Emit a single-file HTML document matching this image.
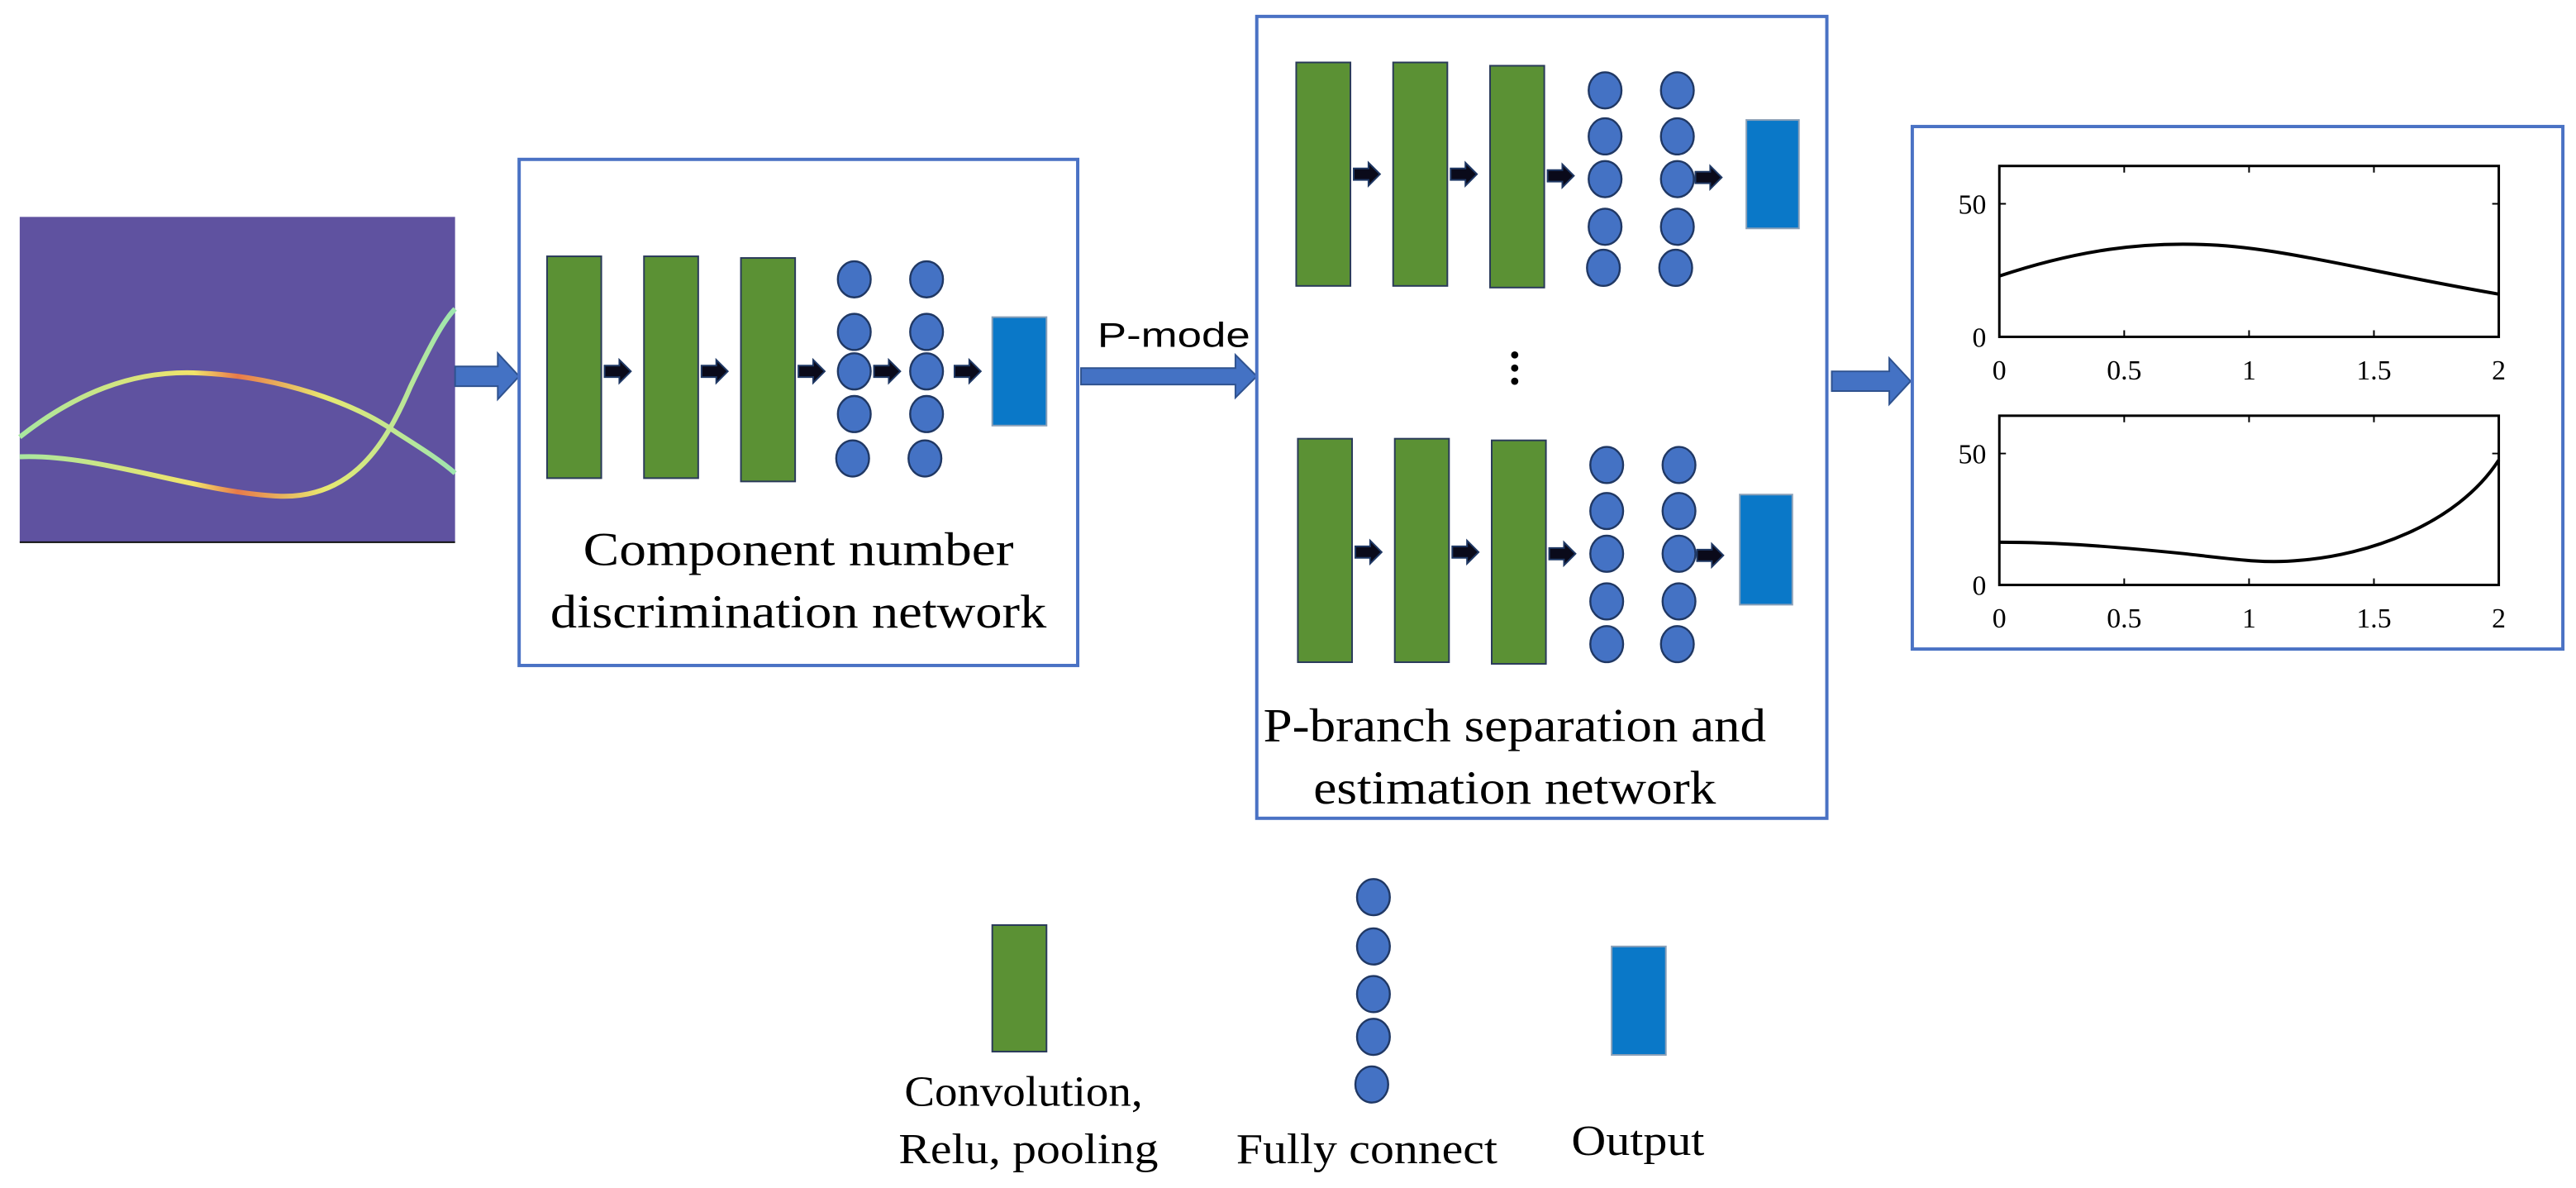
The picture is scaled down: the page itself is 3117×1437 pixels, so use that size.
<!DOCTYPE html>
<html><head><meta charset="utf-8"><style>html,body{margin:0;padding:0;background:#fff}svg{display:block}</style></head><body>
<svg width="3117" height="1437" viewBox="0 0 1568 723" preserveAspectRatio="none" xmlns="http://www.w3.org/2000/svg">
<defs>
<g id="sa"><path d="M-1,-3.5 L8,-3.5 L8,-7 L15,0 L8,7 L8,3.5 L-1,3.5 Z" fill="#0a0a1a" stroke="#1f3864" stroke-width="1"/></g>
<linearGradient id="lg" x1="0" x2="1"><stop offset="0" stop-color="#a8e6a0"/><stop offset="0.4" stop-color="#f2e46a"/><stop offset="0.5" stop-color="#e87a4a"/><stop offset="0.7" stop-color="#e8e870"/><stop offset="1" stop-color="#9ee6b0"/></linearGradient>
</defs>
<style>
.g{fill:#5B9134;stroke:#2a3a5a;stroke-width:1}
.c{fill:#4472C4;stroke:#203864;stroke-width:1.2}
.o{fill:#0A78C8;stroke:#8aa0b8;stroke-width:1}
.bx{fill:none;stroke:#4A72C4;stroke-width:2}
.ba{fill:#4472C4;stroke:#2f528f;stroke-width:1}
.t{font-family:"Liberation Serif",serif;fill:#000}
.ax{font-family:"Liberation Serif",serif;font-size:17px;fill:#000}
</style>
<rect x="12" y="132" width="265" height="198" fill="#5F52A0"/>
<line x1="12" y1="330" x2="277" y2="330" stroke="#111" stroke-width="1"/>
<path d="M12,266 C45,240 80,225 121,227 C170,229 215,245 241,263 C255,272 268,280 277,288" fill="none" stroke="url(#lg)" stroke-width="3"/>
<path d="M12,278 C60,276 120,300 171,302 C215,303 235,270 250,235 C262,210 270,195 277,188" fill="none" stroke="url(#lg)" stroke-width="3"/>
<path class="ba" d="M277,223 L303,223 L303,215 L316,229 L303,243 L303,235 L277,235 Z"/>
<rect class="bx" x="316" y="97" width="340" height="308"/>
<rect class="g" x="333" y="156" width="33" height="135"/>
<rect class="g" x="392" y="156" width="33" height="135"/>
<rect class="g" x="451" y="157" width="33" height="136"/>
<use href="#sa" x="369" y="226"/><use href="#sa" x="428" y="226"/><use href="#sa" x="487" y="226"/><use href="#sa" x="533" y="226"/><use href="#sa" x="582" y="226"/>
<g class="c">
<ellipse cx="520" cy="170" rx="10" ry="11"/><ellipse cx="520" cy="202" rx="10" ry="11"/><ellipse cx="520" cy="226" rx="10" ry="11"/><ellipse cx="520" cy="252" rx="10" ry="11"/><ellipse cx="519" cy="279" rx="10" ry="11"/>
<ellipse cx="564" cy="170" rx="10" ry="11"/><ellipse cx="564" cy="202" rx="10" ry="11"/><ellipse cx="564" cy="226" rx="10" ry="11"/><ellipse cx="564" cy="252" rx="10" ry="11"/><ellipse cx="563" cy="279" rx="10" ry="11"/>
</g>
<rect class="o" x="604" y="193" width="33" height="66"/>
<text class="t" x="486" y="344" font-size="29" text-anchor="middle" textLength="262" lengthAdjust="spacingAndGlyphs">Component number</text>
<text class="t" x="486" y="382" font-size="29" text-anchor="middle" textLength="302" lengthAdjust="spacingAndGlyphs">discrimination network</text>
<text x="668" y="211" font-family="Liberation Sans,sans-serif" font-size="21" textLength="93" lengthAdjust="spacingAndGlyphs">P-mode</text>
<path class="ba" d="M658,224 L752,224 L752,216 L765,229 L752,242 L752,234 L658,234 Z"/>
<rect class="bx" x="765" y="10" width="347" height="488"/>
<rect class="g" x="789" y="38" width="33" height="136"/>
<rect class="g" x="848" y="38" width="33" height="136"/>
<rect class="g" x="907" y="40" width="33" height="135"/>
<use href="#sa" x="825" y="106"/><use href="#sa" x="884" y="106"/><use href="#sa" x="943" y="107"/><use href="#sa" x="1033" y="108"/>
<g class="c">
<ellipse cx="977" cy="55" rx="10" ry="11"/><ellipse cx="977" cy="83" rx="10" ry="11"/><ellipse cx="977" cy="109" rx="10" ry="11"/><ellipse cx="977" cy="138" rx="10" ry="11"/><ellipse cx="976" cy="163" rx="10" ry="11"/>
<ellipse cx="1021" cy="55" rx="10" ry="11"/><ellipse cx="1021" cy="83" rx="10" ry="11"/><ellipse cx="1021" cy="109" rx="10" ry="11"/><ellipse cx="1021" cy="138" rx="10" ry="11"/><ellipse cx="1020" cy="163" rx="10" ry="11"/>
</g>
<rect class="o" x="1063" y="73" width="32" height="66"/>
<circle cx="922" cy="216" r="2.2"/><circle cx="922" cy="224" r="2.2"/><circle cx="922" cy="232" r="2.2"/>
<rect class="g" x="790" y="267" width="33" height="136"/>
<rect class="g" x="849" y="267" width="33" height="136"/>
<rect class="g" x="908" y="268" width="33" height="136"/>
<use href="#sa" x="826" y="336"/><use href="#sa" x="885" y="336"/><use href="#sa" x="944" y="337"/><use href="#sa" x="1034" y="338"/>
<g class="c">
<ellipse cx="978" cy="283" rx="10" ry="11"/><ellipse cx="978" cy="311" rx="10" ry="11"/><ellipse cx="978" cy="337" rx="10" ry="11"/><ellipse cx="978" cy="366" rx="10" ry="11"/><ellipse cx="978" cy="392" rx="10" ry="11"/>
<ellipse cx="1022" cy="283" rx="10" ry="11"/><ellipse cx="1022" cy="311" rx="10" ry="11"/><ellipse cx="1022" cy="337" rx="10" ry="11"/><ellipse cx="1022" cy="366" rx="10" ry="11"/><ellipse cx="1021" cy="392" rx="10" ry="11"/>
</g>
<rect class="o" x="1059" y="301" width="32" height="67"/>
<text class="t" x="922" y="451" font-size="29" text-anchor="middle" textLength="306" lengthAdjust="spacingAndGlyphs">P-branch separation and</text>
<text class="t" x="922" y="489" font-size="29" text-anchor="middle" textLength="245" lengthAdjust="spacingAndGlyphs">estimation network</text>
<path class="ba" d="M1115,226 L1150,226 L1150,218 L1163,232 L1150,246 L1150,238 L1115,238 Z"/>
<rect class="bx" x="1164" y="77" width="396" height="318" stroke-width="3"/>
<g fill="none" stroke="#000">
<rect x="1217" y="101" width="304" height="104" stroke-width="1.5"/>
<rect x="1217" y="253" width="304" height="103" stroke-width="1.5"/>
<path d="M1293,205v-4M1369,205v-4M1445,205v-4M1293,101v4M1369,101v4M1445,101v4M1217,124h4M1521,124h-4M1293,356v-4M1369,356v-4M1445,356v-4M1293,253v4M1369,253v4M1445,253v4M1217,276h4M1521,276h-4" stroke-width="1"/>
<path d="M1217,168 C1265,152 1305,147 1345,149 C1390,151 1440,165 1521,179" stroke-width="2"/>
<path d="M1217,330 C1255,330 1290,333 1330,337 C1365,341 1380,343 1400,341 C1440,338 1495,320 1521,280" stroke-width="2"/>
</g>
<g class="ax">
<text x="1209" y="130" text-anchor="end">50</text><text x="1209" y="211" text-anchor="end">0</text>
<text x="1217" y="231" text-anchor="middle">0</text><text x="1293" y="231" text-anchor="middle">0.5</text><text x="1369" y="231" text-anchor="middle">1</text><text x="1445" y="231" text-anchor="middle">1.5</text><text x="1521" y="231" text-anchor="middle">2</text>
<text x="1209" y="282" text-anchor="end">50</text><text x="1209" y="362" text-anchor="end">0</text>
<text x="1217" y="382" text-anchor="middle">0</text><text x="1293" y="382" text-anchor="middle">0.5</text><text x="1369" y="382" text-anchor="middle">1</text><text x="1445" y="382" text-anchor="middle">1.5</text><text x="1521" y="382" text-anchor="middle">2</text>
</g>
<rect class="g" x="604" y="563" width="33" height="77" stroke="#1f2f50" stroke-width="1.5"/>
<g class="c">
<ellipse cx="836" cy="546" rx="10" ry="11"/><ellipse cx="836" cy="576" rx="10" ry="11"/><ellipse cx="836" cy="605" rx="10" ry="11"/><ellipse cx="836" cy="631" rx="10" ry="11"/><ellipse cx="835" cy="660" rx="10" ry="11"/>
</g>
<rect class="o" x="981" y="576" width="33" height="66"/>
<text class="t" x="623" y="673" font-size="26" text-anchor="middle" textLength="145" lengthAdjust="spacingAndGlyphs">Convolution,</text>
<text class="t" x="626" y="708" font-size="26" text-anchor="middle" textLength="158" lengthAdjust="spacingAndGlyphs">Relu, pooling</text>
<text class="t" x="832" y="708" font-size="26" text-anchor="middle" textLength="159" lengthAdjust="spacingAndGlyphs">Fully connect</text>
<text class="t" x="997" y="703" font-size="26" text-anchor="middle" textLength="81" lengthAdjust="spacingAndGlyphs">Output</text>
</svg>
</body></html>
